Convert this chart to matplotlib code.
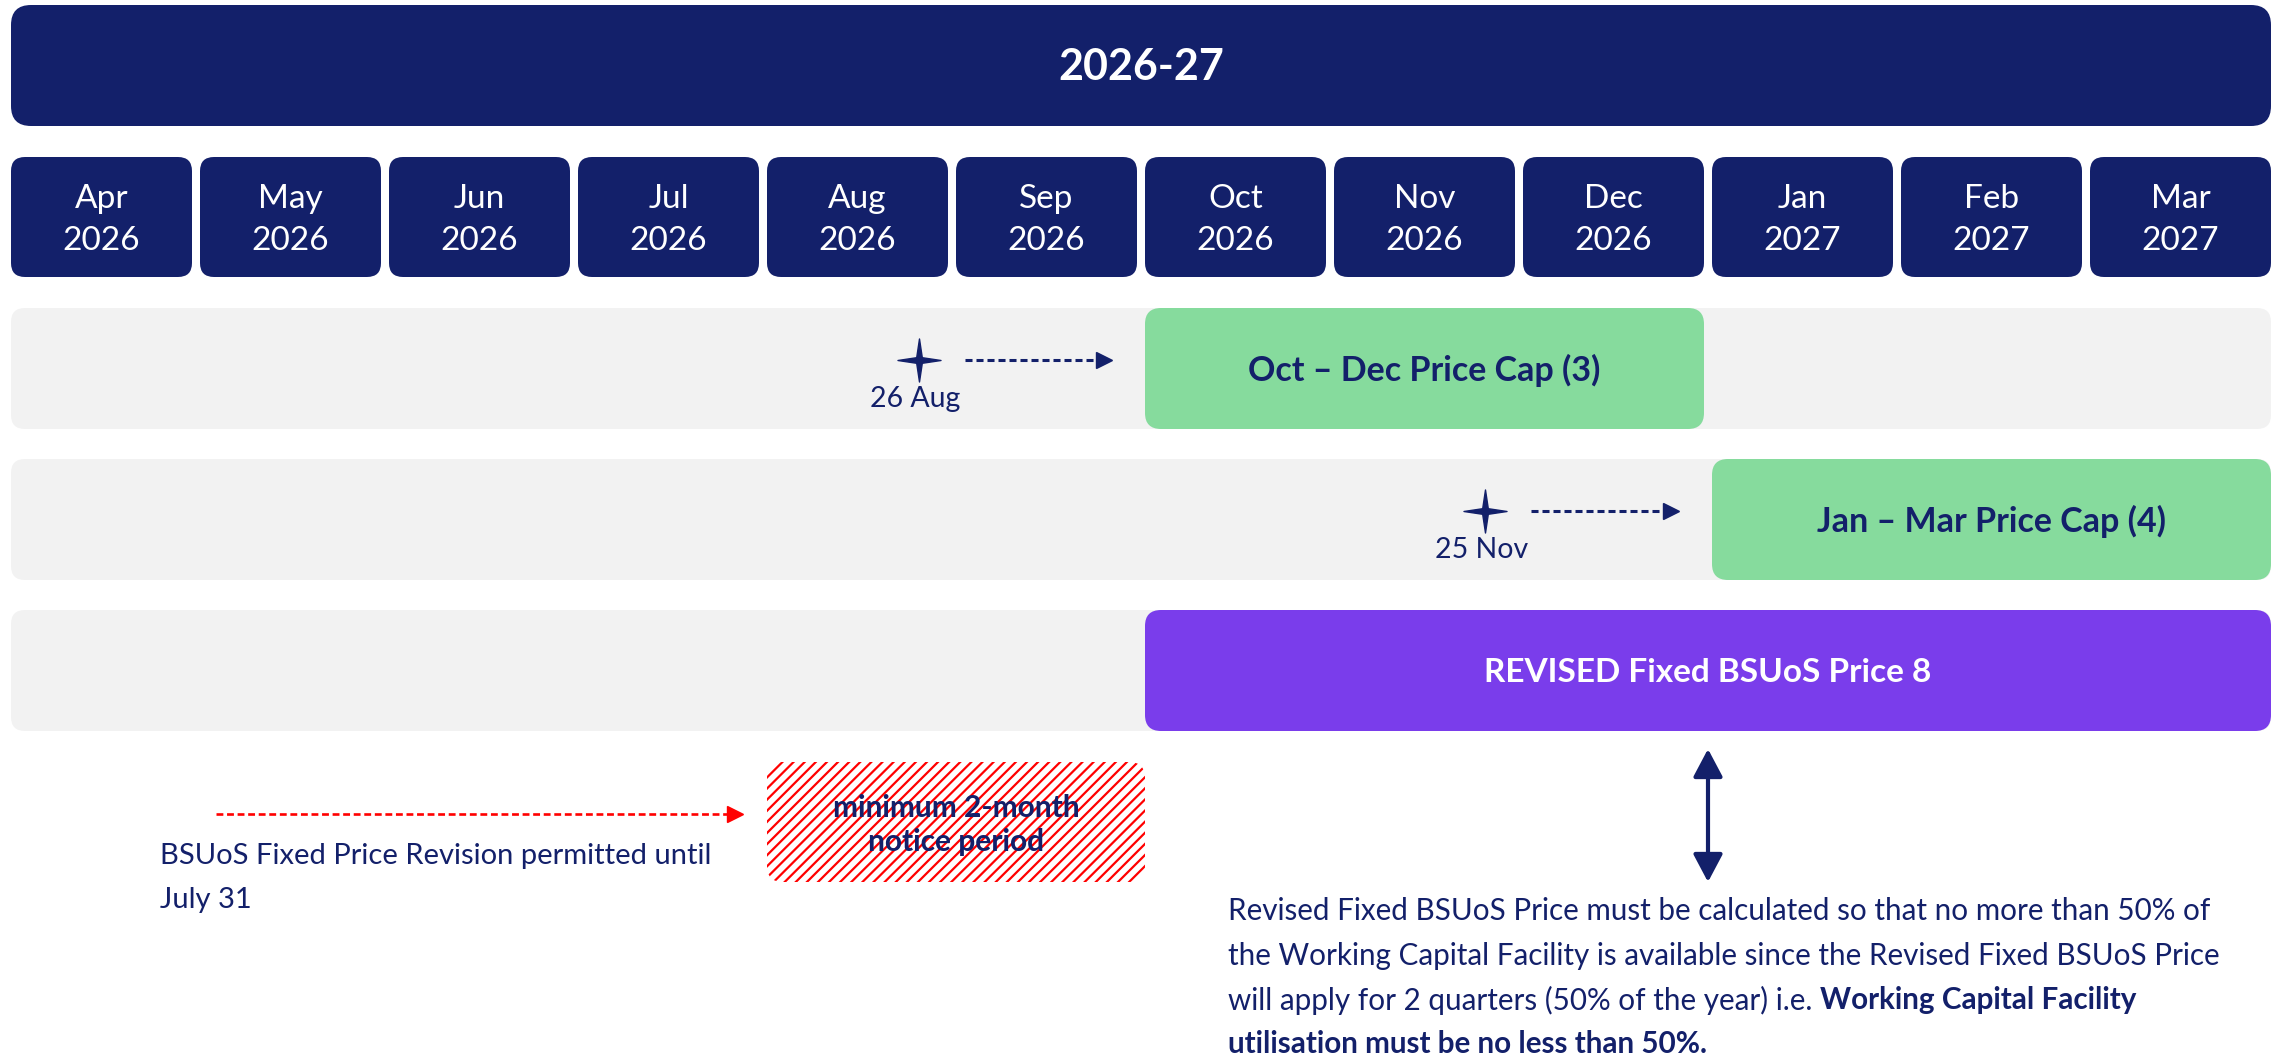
import matplotlib
matplotlib.use("Agg")
import matplotlib.pyplot as plt
from matplotlib.patches import FancyBboxPatch
from matplotlib.path import Path
import numpy as np

plt.rcParams['font.family'] = ['Lato', 'DejaVu Sans']
plt.rcParams['hatch.linewidth'] = 1.6

# ---------------- data ----------------
title = "2026-27"
months = ["Apr", "May", "Jun", "Jul", "Aug", "Sep", "Oct", "Nov", "Dec", "Jan", "Feb", "Mar"]
years = ["2026", "2026", "2026", "2026", "2026", "2026", "2026", "2026", "2026", "2027", "2027", "2027"]

cap_labels = ["Oct – Dec Price Cap (3)", "Jan – Mar Price Cap (4)"]
cap_start = [6, 9]          # month index (0 = Apr 2026)
cap_end = [9, 12]
announce_labels = ["26 Aug", "25 Nov"]
announce_pos = [4 + 25 / 31, 7 + 24 / 30]   # month index + fraction of month

fixed_label = "REVISED Fixed BSUoS Price 8"
fixed_start, fixed_end = 6, 12
notice_label = "minimum 2-month\nnotice period"
notice_start, notice_end = 4, 6

revision_note = ["BSUoS Fixed Price Revision permitted until", "July 31"]
para_lines = [
    "Revised Fixed BSUoS Price must be calculated so that no more than 50% of",
    "the Working Capital Facility is available since the Revised Fixed BSUoS Price",
    "will apply for 2 quarters (50% of the year) i.e. ",
]
para_bold = ["Working Capital Facility", "utilisation must be no less than 50%."]

# ---------------- style / layout ----------------
NAVY = "#13206A"
GREEN = "#86DB9D"
PURPLE = "#7A3DEB"
GRAY = "#F2F2F2"
RED = "#FF0000"

W, H = 2279, 1058
PXM = 189.0          # pixels per month
X0 = 11.0            # left margin in pixels
GAP = 8 / PXM

fig = plt.figure(figsize=(W / 100, H / 100), dpi=100)
ax = fig.add_axes([0, 0, 1, 1])
ax.set_xlim(-X0 / PXM, (W - X0) / PXM)
ax.set_ylim(H, 0)
ax.axis("off")


def rbox(x0, x1, ytop, h, color, r_px, **kw):
    p = FancyBboxPatch((x0, ytop), x1 - x0, h,
                       boxstyle=f"round,pad=0,rounding_size={r_px / PXM}",
                       mutation_aspect=PXM, facecolor=color,
                       edgecolor=kw.pop("edgecolor", "none"),
                       linewidth=kw.pop("linewidth", 0), **kw)
    ax.add_patch(p)
    return p


n = len(months)
# title bar
rbox(0, n - GAP, 5, 121, NAVY, 20)
ax.text((n - GAP) / 2, 67, title, color="white", fontsize=31, fontweight="bold",
        ha="center", va="center")

# month boxes
for i, (m, y) in enumerate(zip(months, years)):
    rbox(i, i + 1 - GAP, 157, 120, NAVY, 14)
    cx = i + (1 - GAP) / 2
    ax.text(cx, 199, m, color="white", fontsize=24, ha="center", va="center")
    ax.text(cx, 241, y, color="white", fontsize=24, ha="center", va="center")

# rows
row_tops = [308, 459, 610]
ROW_H = 121
for rt in row_tops:
    rbox(0, n - GAP, rt, ROW_H, GRAY, 14)

# star marker
a = 0.13
star_verts = [(0, 1), (a, a), (1, 0), (a, -a), (0, -1), (-a, -a), (-1, 0), (-a, a), (0, 1)]
star_codes = [Path.MOVETO] + [Path.LINETO] * 7 + [Path.CLOSEPOLY]
star = Path(star_verts, star_codes)

for k in range(2):
    rt = row_tops[k]
    rbox(cap_start[k], cap_end[k] - GAP, rt, ROW_H, GREEN, 16)
    ax.text((cap_start[k] + cap_end[k] - GAP) / 2, rt + 62, cap_labels[k], color=NAVY,
            fontsize=24.5, fontweight="bold", ha="center", va="center")
    sy = rt + 52
    ax.plot([announce_pos[k]], [sy], marker=star, markersize=31, color=NAVY, linestyle="none")
    ax.text(announce_pos[k] - 0.02, rt + 91, announce_labels[k], color=NAVY, fontsize=20.5,
            ha="center", va="center")
    x_a = announce_pos[k] + 46 / PXM
    x_b = cap_start[k] - 34 / PXM
    ax.plot([x_a, x_b - 12 / PXM], [sy, sy], color=NAVY, linewidth=2.2,
            linestyle=(0, (2.3, 1.3)), solid_capstyle="butt", dash_capstyle="butt")
    ax.plot([x_b - 7 / PXM], [sy], marker=">", markersize=11, color=NAVY, linestyle="none")

# fixed price bar
rt = row_tops[2]
rbox(fixed_start, fixed_end - GAP, rt, ROW_H, PURPLE, 16)
fx = (fixed_start + fixed_end - GAP) / 2
ax.text(fx, rt + 62, fixed_label, color="white", fontsize=24, fontweight="bold",
        ha="center", va="center")

# notice period hatched box
rbox(notice_start, notice_end, 762, 120, "white", 16, edgecolor=RED, linewidth=0, hatch="///")
ax.text((notice_start + notice_end) / 2, 825, notice_label, color=NAVY, fontsize=21.5,
        fontweight="bold", ha="center", va="center", linespacing=1.3)

# red dashed arrow
ry = 814
rx_a = (216 - X0) / PXM
rx_b = notice_start - 23 / PXM
ax.plot([rx_a, rx_b - 14 / PXM], [ry, ry], color=RED, linewidth=1.9,
        linestyle=(0, (2.6, 1.4)), dash_capstyle="butt")
ax.plot([rx_b - 9 / PXM], [ry], marker=">", markersize=12, color=RED, linestyle="none")

# revision note
nx = (160 - X0) / PXM
ax.text(nx, 856, revision_note[0], color=NAVY, fontsize=21, ha="left", va="center")
ax.text(nx, 900, revision_note[1], color=NAVY, fontsize=21, ha="left", va="center")

# double-headed arrow
ax.annotate("", xy=(fx, 749), xytext=(fx, 882),
            arrowprops=dict(arrowstyle="<|-|>,head_length=0.85,head_width=0.45",
                            mutation_scale=20, color=NAVY, lw=3.0,
                            shrinkA=0, shrinkB=0))

# paragraph
px = (1228 - X0) / PXM
para_y = [911, 956, 1000, 1044]
for line, yy in zip(para_lines, para_y):
    t = ax.text(px, yy, line, color=NAVY, fontsize=21.3, ha="left", va="center")
ax.annotate(para_bold[0], xy=(1, 0.5), xycoords=t, color=NAVY, fontsize=21.3,
            fontweight="bold", ha="left", va="center")
ax.text(px, para_y[3], para_bold[1], color=NAVY, fontsize=21.3, fontweight="bold",
        ha="left", va="center")

fig.savefig("out.png", dpi=100)
